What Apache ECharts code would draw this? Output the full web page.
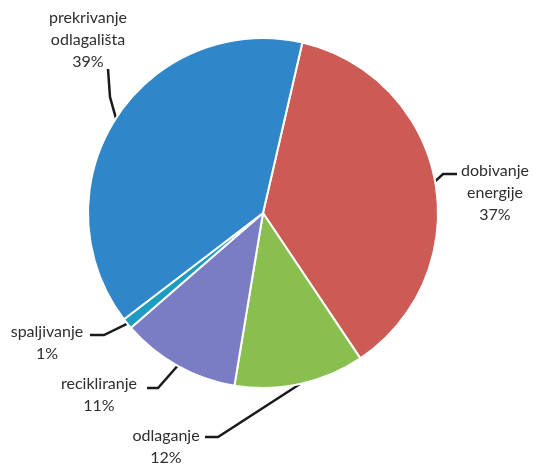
<!DOCTYPE html>
<html>
<head>
<meta charset="utf-8">
<script src="https://cdn.jsdelivr.net/npm/echarts@6/dist/echarts.min.js"></script>
<style>
html,body{margin:0;padding:0;background:#fff;}
#chart{width:534px;height:467px;}
</style>
</head>
<body>
<div id="chart"></div>
<script>
// Data
var categories = ['dobivanje\nenergije', 'odlaganje', 'recikliranje', 'spaljivanje', 'prekrivanje\nodlagališta'];
var shares = [37, 12, 11, 1, 39];
var colors = ['#cc5a55', '#88bf4f', '#7a7cc4', '#1e9bc0', '#2f86c8'];

// Label layout (style only): label centre and leader turn & end points
var placement = [
  {x: 495, y: 193, turn: [443, 174], end: [457, 174]},
  {x: 166, y: 447, turn: [218, 437], end: [205, 437]},
  {x: 99,  y: 395, turn: [158, 388], end: [147, 388]},
  {x: 47,  y: 343, turn: [104, 335], end: [90, 335]},
  {x: 88,  y: 40,  turn: [110, 97],  end: [108, 69]}
];

var chart = echarts.init(document.getElementById('chart'), null, {renderer: 'canvas'});
chart.setOption({
  animation: false,
  series: [{
    type: 'pie',
    center: [263, 213],
    radius: 175,
    startAngle: 77,
    clockwise: true,
    avoidLabelOverlap: false,
    data: categories.map(function (c, i) {
      return {name: c, value: shares[i], itemStyle: {color: colors[i]}};
    }),
    itemStyle: {borderColor: '#ffffff', borderWidth: 2},
    label: {
      show: true,
      position: 'outside',
      formatter: function (p) { return p.name + '\n' + p.value + '%'; },
      fontFamily: 'Lato',
      fontSize: 16,
      lineHeight: 22,
      color: '#2e2e2e',
      align: 'center'
    },
    labelLine: {
      show: true,
      lineStyle: {color: '#1a1a1a', width: 2.5}
    },
    labelLayout: function (params) {
      var pl = placement[params.dataIndex];
      var anchor = params.labelLinePoints ? params.labelLinePoints[0] : pl.turn;
      return {
        x: pl.x,
        y: pl.y,
        align: 'center',
        verticalAlign: 'middle',
        labelLinePoints: [anchor, pl.turn, pl.end]
      };
    }
  }]
});
</script>
</body>
</html>
